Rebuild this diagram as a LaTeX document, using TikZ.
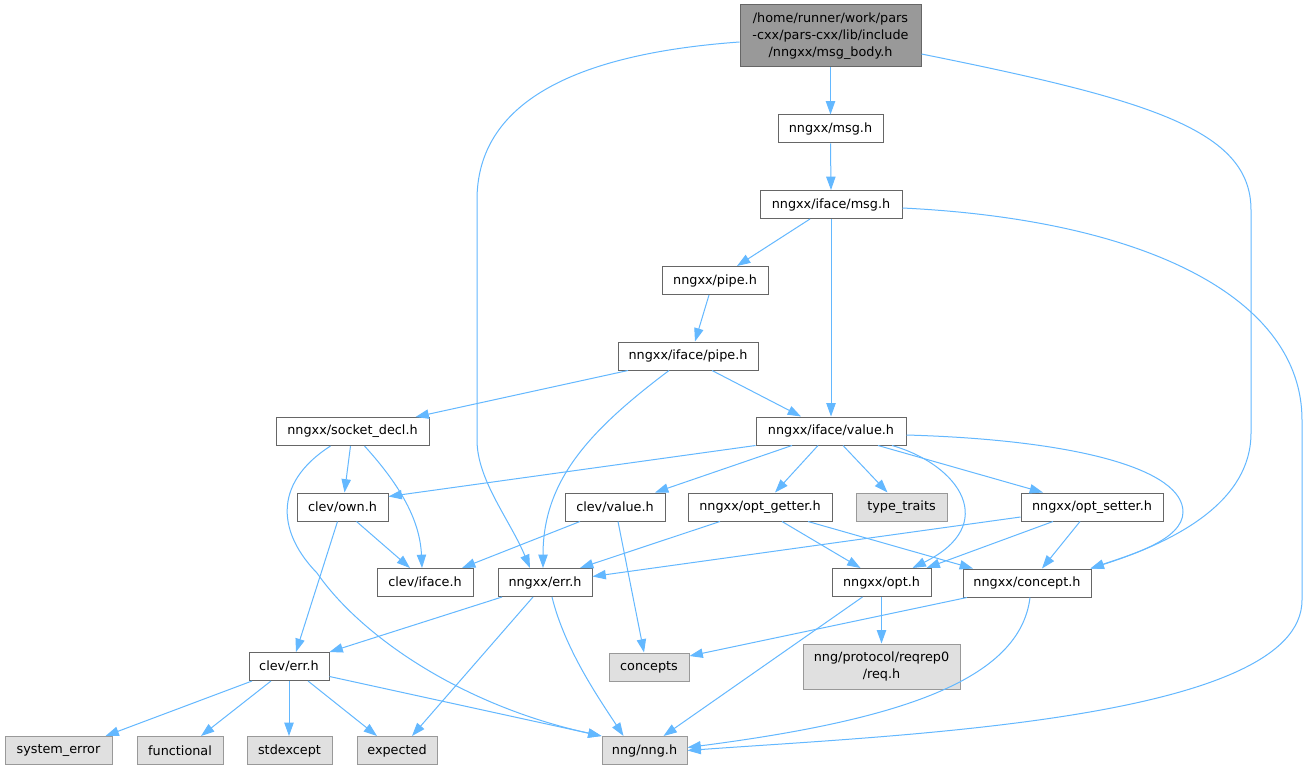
\documentclass[tikz,border=0pt]{standalone}
\usepackage{fontspec}
\setmainfont{DejaVu Sans}
\usetikzlibrary{arrows.meta,calc}
\definecolor{edgec}{HTML}{63B8FF}
\definecolor{boxb}{HTML}{666666}
\definecolor{sysb}{HTML}{999999}
\definecolor{sysf}{HTML}{E0E0E0}
\definecolor{rootf}{HTML}{999999}
\begin{document}
\begin{tikzpicture}[x=0.75pt,y=-0.75pt,
  nbox/.style={draw=boxb,fill=white,line width=0.75pt,minimum height=21pt,inner sep=0pt,
    font=\fontsize{9.6}{12.75}\selectfont,align=center},
  wd/.style={minimum width=#1*0.75pt},
  sysbox/.style={nbox,draw=sysb,fill=sysf},
  rootbox/.style={nbox,draw=boxb,fill=rootf},
  dep/.style={draw=edgec,line width=0.75pt,-{Triangle[length=10pt,width=7pt]}}]
\useasboundingbox (0,0) rectangle (1307,770);
\fill[white] (0,0) rectangle (1307,770);

\node[rootbox,wd=181,minimum height=46.5pt] (msgbody) at (830.5,36) {/home/runner/work/pars\\-cxx/pars-cxx/lib/include\\/nngxx/msg\_body.h};
\node[nbox,wd=105] (msg) at (830.5,129) {nngxx/msg.h};
\node[nbox,wd=142] (imsg) at (831,204.5) {nngxx/iface/msg.h};
\node[nbox,wd=106] (pipe) at (715,280.5) {nngxx/pipe.h};
\node[nbox,wd=140] (ipipe) at (688,356) {nngxx/iface/pipe.h};
\node[nbox,wd=153] (sock) at (352.5,431.5) {nngxx/socket\_decl.h};
\node[nbox,wd=150] (ival) at (831,431) {nngxx/iface/value.h};
\node[nbox,wd=91] (own) at (342.5,507) {clev/own.h};
\node[nbox,wd=100] (cval) at (615,507) {clev/value.h};
\node[nbox,wd=144] (oget) at (760,507) {nngxx/opt\_getter.h};
\node[sysbox,wd=91] (ttr) at (901.5,507) {type\_traits};
\node[nbox,wd=142] (oset) at (1092,507) {nngxx/opt\_setter.h};
\node[nbox,wd=96] (cifc) at (425,582.5) {clev/iface.h};
\node[nbox,wd=94] (err) at (545,582.5) {nngxx/err.h};
\node[nbox,wd=99] (opt) at (881.5,582.5) {nngxx/opt.h};
\node[nbox,wd=128] (conc) at (1027,583) {nngxx/concept.h};
\node[nbox,wd=80] (cerr) at (289,666.5) {clev/err.h};
\node[sysbox,wd=80] (cpts) at (649,667) {concepts};
\node[sysbox,wd=157,minimum height=33.75pt] (req) at (881.5,666.5) {nng/protocol/reqrep0\\/req.h};
\node[sysbox,wd=107] (syse) at (58.5,750.5) {system\_error};
\node[sysbox,wd=86] (func) at (180,750.5) {functional};
\node[sysbox,wd=85] (stdx) at (289.5,750.5) {stdexcept};
\node[sysbox,wd=80] (expd) at (397,750.5) {expected};
\node[sysbox,wd=85] (nng) at (644.5,750.5) {nng/nng.h};

% edges
\draw[dep] (msgbody.south) -- (msg.north);
\draw[dep] ($(msgbody.west)+(0,6)$) .. controls (560,55) and (477,110) .. (477,200) -- (477,440)
  .. controls (477,480) and (510,520) .. ($(err.north)+(-15,0)$);
\draw[dep] ($(msgbody.east)+(0,18)$) .. controls (1150,100) and (1251,130) .. (1251,210) -- (1251,433)
  .. controls (1251,500) and (1180,540) .. ($(conc.north east)+(-1,0)$);
\draw[dep] (msg.south) -- (imsg.north);
\draw[dep] ($(imsg.south)+(-21,0)$) -- ($(pipe.north)+(22,0)$);
\draw[dep] (imsg.south) -- (ival.north);
\draw[dep] ($(imsg.east)+(0,3.5)$) .. controls (1150,220) and (1302,300) .. (1302,420) -- (1302,600)
  .. controls (1302,720) and (900,735) .. (nng.east);
\draw[dep] ($(pipe.south)+(-6,0)$) -- ($(ipipe.north)+(7,0)$);
\draw[dep] ($(ipipe.south)+(-60,0)$) -- ($(sock.north)+(63,0)$);
\draw[dep] ($(ipipe.south)+(24,0)$) -- ($(ival.north)+(-30,0)$);
\draw[dep] ($(ipipe.south)+(-19,0)$) .. controls (590,430) and (543,480) .. ($(err.north)+(-2,0)$);
\draw[dep] ($(sock.south)+(-2,0)$) -- ($(own.north)+(2,0)$);
\draw[dep] ($(sock.south)+(12,0)$) .. controls (400,485) and (420,520) .. ($(cifc.north)+(-3,0)$);
\draw[dep] ($(sock.south)+(-22,0)$) .. controls (270,485) and (280,535) .. (317,573)
  .. controls (360,635) and (460,705) .. (nng.north west);
\draw[dep] (ival.south west) -- ($(own.north east)+(0,4)$);
\draw[dep] ($(ival.south)+(-39,0)$) -- ($(cval.north)+(40,0)$);
\draw[dep] ($(ival.south)+(-13,0)$) -- ($(oget.north)+(15,0)$);
\draw[dep] ($(ival.south)+(12,0)$) -- ($(ttr.north)+(-14,0)$);
\draw[dep] ($(ival.south)+(47,0)$) -- ($(oset.north)+(-49,0)$);
\draw[dep] ($(ival.south)+(61,0)$) .. controls (960,465) and (1000,525) .. ($(opt.north)+(31,0)$);
\draw[dep] ($(ival.east)+(0,4)$) .. controls (1080,440) and (1183,470) .. (1183,512)
  .. controls (1183,540) and (1130,555) .. ($(conc.north east)+(-1,0)$);
\draw[dep] ($(own.south)+(14,0)$) -- ($(cifc.north)+(-15,0)$);
\draw[dep] ($(own.south)+(-5,0)$) -- ($(cerr.north)+(7,0)$);
\draw[dep] ($(cval.south)+(-35,0)$) -- ($(cifc.north)+(37,0)$);
\draw[dep] ($(cval.south)+(3,0)$) -- ($(cpts.north)+(-5,0)$);
\draw[dep] ($(oget.south)+(-40,0)$) -- ($(err.north)+(35,0)$);
\draw[dep] ($(oget.south)+(22,0)$) -- ($(opt.north)+(-21,0)$);
\draw[dep] ($(oget.south)+(48,0)$) -- ($(conc.north)+(-54,0)$);
\draw[dep] ($(oset.west)+(0,10)$) -- ($(err.east)+(0,-6)$);
\draw[dep] ($(oset.south)+(-39,0)$) -- ($(opt.north)+(45,0)$);
\draw[dep] ($(oset.south)+(-12,0)$) -- ($(conc.north)+(15,0)$);
\draw[dep] ($(err.south)+(-43,0)$) -- (cerr.north east);
\draw[dep] ($(err.south)+(-12,0)$) -- ($(expd.north)+(15,0)$);
\draw[dep] ($(err.south)+(7,0)$) .. controls (565,650) and (600,700) .. ($(nng.north)+(-21,0)$);
\draw[dep] (opt.south) -- (req.north);
\draw[dep] ($(opt.south)+(-19,0)$) -- ($(nng.north)+(19,0)$);
\draw[dep] ($(conc.south)+(-60,0)$) -- ($(cpts.east)+(0,-11)$);
\draw[dep] ($(conc.south)+(3,0)$) .. controls (1020,680) and (900,720) .. ($(nng.east)+(0,-3)$);
\draw[dep] ($(cerr.south)+(-37,0)$) -- ($(syse.north)+(47,0)$);
\draw[dep] ($(cerr.south)+(-18,0)$) -- ($(func.north)+(21,0)$);
\draw[dep] (cerr.south) -- (cerr.south |- stdx.north);
\draw[dep] ($(cerr.south)+(19,0)$) -- ($(expd.north)+(-20,0)$);
\draw[dep] ($(cerr.east)+(0,10)$) -- (nng.north west);
\end{tikzpicture}
\end{document}
